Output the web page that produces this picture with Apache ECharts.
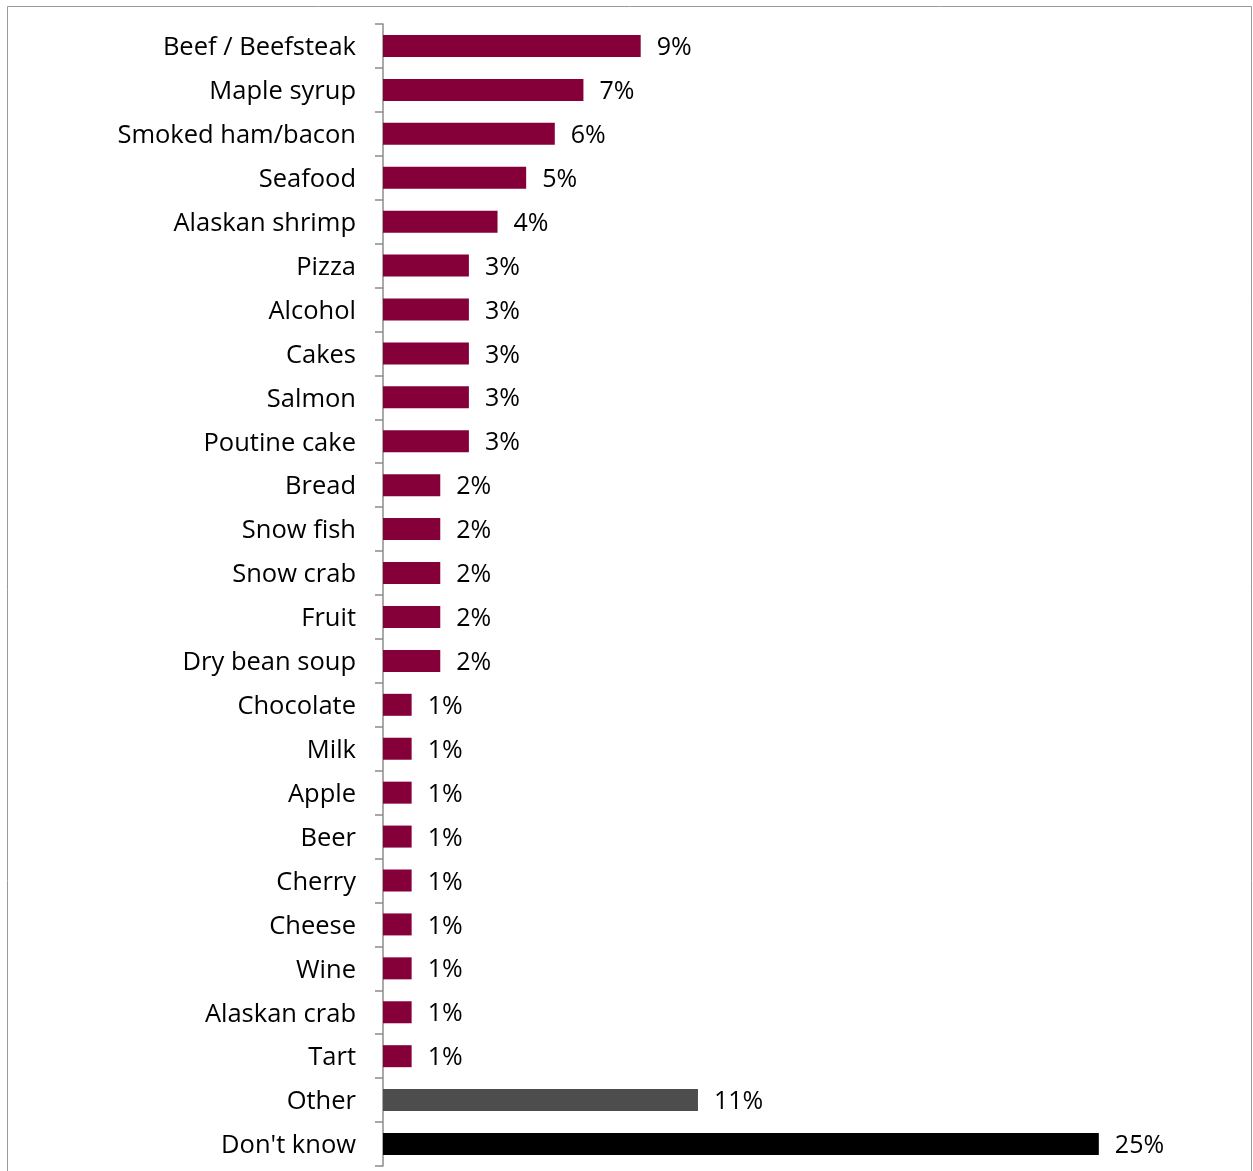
<!DOCTYPE html>
<html><head><meta charset="utf-8">
<script src="https://cdn.jsdelivr.net/npm/echarts@6/dist/echarts.min.js"></script>
<style>html,body{margin:0;padding:0;background:#fff}#c{width:1253px;height:1171px}</style>
</head><body><div id="c"></div>
<script>
const categories = ["Beef / Beefsteak","Maple syrup","Smoked ham/bacon","Seafood","Alaskan shrimp","Pizza","Alcohol","Cakes","Salmon","Poutine cake","Bread","Snow fish","Snow crab","Fruit","Dry bean soup","Chocolate","Milk","Apple","Beer","Cherry","Cheese","Wine","Alaskan crab","Tart","Other","Don't know"];
const values = [9,7,6,5,4,3,3,3,3,3,2,2,2,2,2,1,1,1,1,1,1,1,1,1,11,25];
const barColors = {default:"#850038", "Other":"#4d4d4d", "Don't know":"#000000"};
const FONT = "'Open Sans', sans-serif";
const chart = echarts.init(document.getElementById('c'));
chart.setOption({
  animation:false,
  graphic:[{type:'rect',shape:{x:7.5,y:6.5,width:1244,height:1200},style:{fill:'none',stroke:'#999',lineWidth:1}}],
  grid:{left:383,right:11,top:24,bottom:5},
  xAxis:{type:'value',min:0,max:30,show:false},
  yAxis:{type:'category',inverse:true,data:categories,
    axisLine:{show:true,lineStyle:{color:'#8c8c8c',width:1.5}},
    axisTick:{show:true,alignWithLabel:false,interval:0,length:8,lineStyle:{color:'#8c8c8c',width:1.5}},
    axisLabel:{margin:27,color:'#000',fontSize:25.5,fontFamily:FONT,
      formatter:v=>'{a|'+v+'}',
      rich:{a:{fontSize:25.5,fontFamily:FONT,color:'#000',padding:[4,0,0,0]}}}},
  series:[{type:'bar',barWidth:22,
    data:values.map((v,i)=>({value:v,itemStyle:{color:barColors[categories[i]]||barColors.default}})),
    label:{show:true,position:'right',distance:16,offset:[0,2],formatter:'{c}%',color:'#000',fontSize:25,fontFamily:FONT}}]
});
</script></body></html>
